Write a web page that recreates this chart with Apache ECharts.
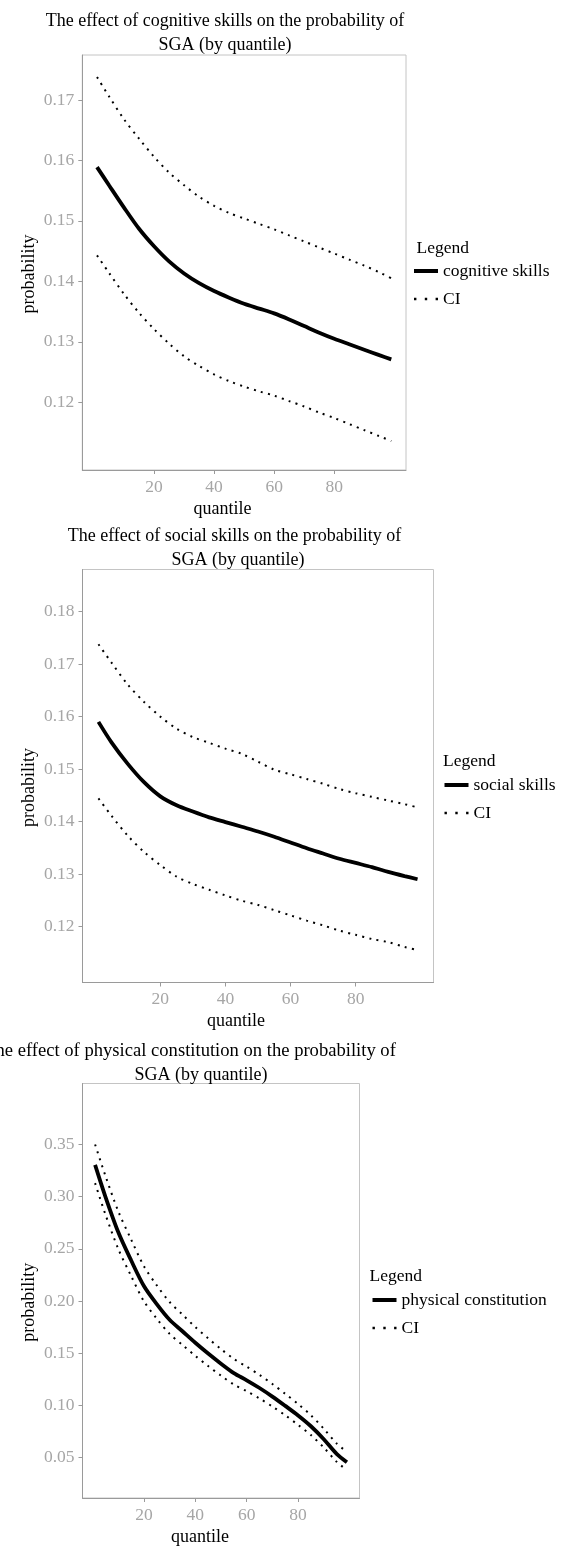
<!DOCTYPE html>
<html>
<head>
<meta charset="utf-8">
<script src="https://cdn.jsdelivr.net/npm/echarts@6/dist/echarts.min.js"></script>
<style>
html,body{margin:0;padding:0;background:#fff;}
#chart{width:561px;height:1547px;}
</style>
</head>
<body>
<div id="chart"></div>
<script>
// ---- data ----
const quantiles = [1,5,10,15,20,25,30,35,40,45,50,55,60,65,70,75,80,85,90,95,99];

const cogMain  = [0.1589,0.1559,0.1522,0.1487,0.1458,0.1433,0.1413,0.1397,0.1384,0.1373,0.1363,0.1355,0.1347,0.1337,0.1326,0.1315,0.1305,0.1296,0.1287,0.1278,0.1271];
const cogUpper = [0.1738,0.1706,0.1668,0.1636,0.1606,0.1580,0.1559,0.1540,0.1525,0.1513,0.1504,0.1495,0.1486,0.1476,0.1466,0.1456,0.1446,0.1436,0.1426,0.1415,0.1405];
const cogLower = [0.1443,0.1414,0.1379,0.1348,0.1321,0.1297,0.1276,0.1260,0.1246,0.1235,0.1226,0.1218,0.1211,0.1202,0.1193,0.1183,0.1174,0.1164,0.1154,0.1144,0.1136];

const socMain  = [0.1590,0.1551,0.1510,0.1475,0.1448,0.1431,0.1419,0.1408,0.1399,0.1390,0.1381,0.1371,0.1360,0.1349,0.1339,0.1329,0.1321,0.1313,0.1304,0.1296,0.1290];
const socUpper = [0.1738,0.1703,0.1661,0.1628,0.1600,0.1577,0.1561,0.1550,0.1539,0.1529,0.1514,0.1499,0.1490,0.1481,0.1472,0.1462,0.1454,0.1447,0.1440,0.1433,0.1427];
const socLower = [0.1444,0.1411,0.1373,0.1342,0.1317,0.1295,0.1281,0.1270,0.1259,0.1249,0.1241,0.1231,0.1221,0.1211,0.1202,0.1192,0.1184,0.1176,0.1170,0.1161,0.1155];

const physMain  = [0.3303,0.3000,0.2660,0.2390,0.2143,0.1970,0.1820,0.1710,0.1600,0.1497,0.1400,0.1310,0.1241,0.1167,0.1085,0.0996,0.0904,0.0801,0.0677,0.0536,0.0456];
const physUpper = [0.3498,0.3200,0.2860,0.2590,0.2333,0.2150,0.1990,0.1870,0.1750,0.1642,0.1540,0.1445,0.1371,0.1292,0.1205,0.1111,0.1014,0.0906,0.0777,0.0636,0.0556];
const physLower = [0.3128,0.2830,0.2500,0.2240,0.1998,0.1830,0.1685,0.1580,0.1475,0.1377,0.1285,0.1200,0.1136,0.1067,0.0990,0.0906,0.0814,0.0716,0.0597,0.0461,0.0381];

const xTicks    = [20,40,60,80];
const cogTicks  = [0.12,0.13,0.14,0.15,0.16,0.17];
const socTicks  = [0.12,0.13,0.14,0.15,0.16,0.17,0.18];
const physTicks = [0.05,0.10,0.15,0.20,0.25,0.30,0.35];

const titleLine1 = [
  'The effect of cognitive skills on the probability of',
  'The effect of social skills on the probability of',
  'The effect of physical constitution on the probability of'
];
const titleLine2 = 'SGA (by quantile)';
const mainNames = ['cognitive skills','social skills','physical constitution'];

// ---- layout ----
const FONT = "'Liberation Serif','Times New Roman',serif";
const panels = [
  {grid:{left:82.3, top:55,     width:323.7, height:415},   ymin:0.1088, ymax:0.17744, ticks:cogTicks,
   main:cogMain, up:cogUpper, lo:cogLower, t1X:225, t1Size:18, t2X:225, titleY:9, xNameX:222.5,
   legLeft:414, legTop:262, legTitleX:416.5, legTitleY:239},
  {grid:{left:82.5, top:569.5,  width:351,   height:413},   ymin:0.10931, ymax:0.18805, ticks:socTicks,
   main:socMain, up:socUpper, lo:socLower, t1X:234.5, t1Size:18, t2X:238, titleY:524, xNameX:236,
   legLeft:444.5, legTop:776, legTitleX:443, legTitleY:752},
  {grid:{left:82.5, top:1083.5, width:277,   height:414.5}, ymin:0.0114, ymax:0.4082, ticks:physTicks,
   main:physMain, up:physUpper, lo:physLower, t1X:190, t1Size:18.6, t2X:201, titleY:1038.5, xNameX:200,
   legLeft:372.5, legTop:1291, legTitleX:369.5, legTitleY:1267}
];

const AXIS_GRAY = '#9a9a9a';
const LABEL_GRAY = '#a6a6a6';
const ciIcon = 'path://M0,0h2v2h-2z M9,0h2v2h-2z M18,0h2v2h-2z';

const option = {
  backgroundColor:'#fff',
  animation:false,
  title:[], grid:[], xAxis:[], yAxis:[], series:[], legend:[]
};

panels.forEach((p,i)=>{
  option.title.push({
    text:titleLine1[i], left:p.t1X, top:p.titleY, textAlign:'center', padding:0,
    textStyle:{fontFamily:FONT, fontSize:p.t1Size, fontWeight:'normal', color:'#000', lineHeight:24.5}
  });
  option.title.push({
    text:titleLine2, left:p.t2X, top:p.titleY+24.5, textAlign:'center', padding:0,
    textStyle:{fontFamily:FONT, fontSize:18, fontWeight:'normal', color:'#000', lineHeight:24.5}
  });
  option.title.push({
    text:'Legend', left:p.legTitleX, top:p.legTitleY, padding:0,
    textStyle:{fontFamily:FONT, fontSize:17.5, fontWeight:'normal', color:'#000', lineHeight:18}
  });
  option.grid.push(Object.assign({show:true, borderColor:'#c4c4c4', borderWidth:1, backgroundColor:'#fff'}, p.grid));
  const boxCenterX = p.grid.left + p.grid.width/2;
  option.xAxis.push({
    type:'value', gridIndex:i, min:-3.9, max:103.9,
    name:'quantile', nameLocation:'middle', nameGap:30, nameMoveOverlap:false,
    nameTextStyle:{fontFamily:FONT, fontSize:18, color:'#000', padding:[0,(boxCenterX-p.xNameX)*2,0,0]},
    axisLine:{show:true, onZero:false, lineStyle:{color:AXIS_GRAY, width:1}},
    axisTick:{show:true, length:4, customValues:xTicks, lineStyle:{color:AXIS_GRAY}},
    axisLabel:{customValues:xTicks, margin:8, fontFamily:FONT, fontSize:17.5, color:LABEL_GRAY},
    splitLine:{show:false}
  });
  option.yAxis.push({
    type:'value', gridIndex:i, min:p.ymin, max:p.ymax,
    name:'probability', nameLocation:'middle', nameGap:44, nameMoveOverlap:false,
    nameTextStyle:{fontFamily:FONT, fontSize:18, color:'#000', padding:[0,23,0,0]},
    axisLine:{show:true, onZero:false, lineStyle:{color:AXIS_GRAY, width:1}},
    axisTick:{show:true, length:4, customValues:p.ticks, lineStyle:{color:AXIS_GRAY}},
    axisLabel:{customValues:p.ticks, margin:8, fontFamily:FONT, fontSize:17.5, color:LABEL_GRAY,
      formatter:v=>v.toFixed(2)},
    splitLine:{show:false}
  });
  const zip = arr => quantiles.map((q,k)=>[q,arr[k]]);
  const common = {type:'line', xAxisIndex:i, yAxisIndex:i, showSymbol:false, symbol:'none',
    smooth:0.3, silent:true, z:3};
  option.series.push(Object.assign({}, common, {name:'CI', data:zip(p.up),
    lineStyle:{color:'#000', width:2, type:[2,5.3], cap:'butt'}, itemStyle:{color:'#000'}}));
  option.series.push(Object.assign({}, common, {name:'CI', data:zip(p.lo),
    lineStyle:{color:'#000', width:2, type:[2,5.3], cap:'butt'}, itemStyle:{color:'#000'}}));
  option.series.push(Object.assign({}, common, {name:mainNames[i], data:zip(p.main),
    lineStyle:{color:'#000', width:3.8}, itemStyle:{color:'#000'}, z:4}));
  option.legend.push({
    orient:'vertical', left:p.legLeft, top:p.legTop, padding:0, itemGap:10,
    itemWidth:24, itemHeight:4, selectedMode:false,
    itemStyle:{borderWidth:0},
    textStyle:{fontFamily:FONT, fontSize:17.5, color:'#000', lineHeight:18},
    data:[{name:mainNames[i], icon:'path://M0,0h24v4h-24z'}, {name:'CI', icon:ciIcon}]
  });
});

const chart = echarts.init(document.getElementById('chart'), null, {renderer:'canvas', width:561, height:1547});
chart.setOption(option);
</script>
</body>
</html>
